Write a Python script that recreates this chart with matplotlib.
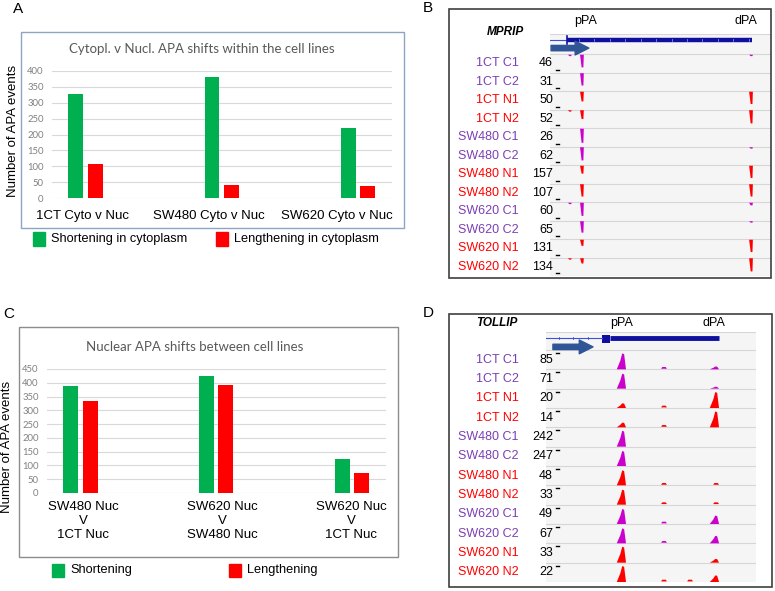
import matplotlib
matplotlib.use('Agg')
import matplotlib.pyplot as plt
from matplotlib.patches import Rectangle, Polygon

# ---- data ----
a_groups = ['1CT Cyto v Nuc', 'SW480 Cyto v Nuc', 'SW620 Cyto v Nuc']
a_short = [328, 380, 220]
a_long = [106, 42, 37]
a_legend = ['Shortening in cytoplasm', 'Lengthening in cytoplasm']

c_groups = ['SW480 Nuc\nV\n1CT Nuc', 'SW620 Nuc\nV\nSW480 Nuc', 'SW620 Nuc\nV\n1CT Nuc']
c_short = [387, 423, 123]
c_long = [333, 393, 72]
c_legend = ['Shortening', 'Lengthening']

samples = ['1CT C1', '1CT C2', '1CT N1', '1CT N2', 'SW480 C1', 'SW480 C2',
           'SW480 N1', 'SW480 N2', 'SW620 C1', 'SW620 C2', 'SW620 N1', 'SW620 N2']

# MPRIP: track scale per sample, peak heights (fraction of row) at pPA, dPA, upstream bit
mprip_scale = [46, 31, 50, 52, 26, 62, 157, 107, 60, 65, 131, 134]
mprip_sites = [0.145, 0.91, 0.09]
mprip_ppa = [0.72, 0.70, 0.55, 0.50, 0.80, 0.75, 0.45, 0.70, 0.75, 0.65, 0.35, 0.30]
mprip_dpa = [0.05, 0.0, 0.70, 0.75, 0.0, 0.05, 0.70, 0.70, 0.15, 0.03, 0.70, 0.75]
mprip_up = [0.08, 0.0, 0.0, 0.05, 0.0, 0.0, 0.0, 0.0, 0.05, 0.0, 0.0, 0.05]

# TOLLIP: pPA, middle, small bump, dPA
tollip_scale = [85, 71, 20, 14, 242, 247, 48, 33, 49, 67, 33, 22]
tollip_sites = [0.367, 0.562, 0.686, 0.81]
tollip_ppa = [0.85, 0.80, 0.25, 0.25, 0.85, 0.80, 0.80, 0.80, 0.80, 0.80, 0.85, 0.85]
tollip_mid = [0.05, 0.0, 0.05, 0.05, 0.0, 0.0, 0.05, 0.05, 0.06, 0.03, 0.0, 0.05]
tollip_bump = [0.0, 0.0, 0.0, 0.0, 0.0, 0.0, 0.0, 0.0, 0.0, 0.0, 0.0, 0.05]
tollip_dpa = [0.15, 0.10, 0.85, 0.85, 0.0, 0.0, 0.05, 0.08, 0.45, 0.40, 0.20, 0.35]

GREEN = '#00b050'
RED = '#ff0000'
PURPLE = '#7b3fb5'
MAGENTA = '#cc00cc'
ARIAL = 'Liberation Sans'
CALIBRI = 'Lato'

W, H = 775, 591
fig = plt.figure(figsize=(W / 100, H / 100), dpi=100)


def px(x0, y0, x1, y1):
    return [x0 / W, 1 - y1 / H, (x1 - x0) / W, (y1 - y0) / H]


def ftext(x, y, s, **kw):
    kw.setdefault('family', ARIAL)
    return fig.text(x / W, 1 - y / H, s, **kw)


def box(x0, y0, x1, y1, color, lw):
    fig.add_artist(Rectangle((x0 / W, 1 - y1 / H), (x1 - x0) / W, (y1 - y0) / H,
                             transform=fig.transFigure, fill=False,
                             edgecolor=color, lw=lw))


def bar_panel(letter, letter_xy, boxr, boxcol, plot, ymax, title, title_xy,
              short, long_, labels, label_x, label_y, ylab_xy, legend, leg):
    ftext(*letter_xy, letter, fontsize=11, ha='left', va='center')
    box(*boxr, boxcol, 1.0)
    ax = fig.add_axes(px(*plot))
    x = range(len(short))
    ax.bar([i - 0.071 for i in x], short, width=0.11, color=GREEN, zorder=3)
    ax.bar([i + 0.071 for i in x], long_, width=0.11, color=RED, zorder=3)
    ax.set_xlim(-0.247, 2.252)
    ax.set_ylim(0, ymax)
    ax.set_yticks(range(0, ymax + 1, 50))
    ax.set_xticks([])
    ax.grid(axis='y', color='#d9d9d9', lw=0.8, zorder=0)
    for s in ax.spines.values():
        s.set_visible(False)
    ax.tick_params(axis='y', length=0, labelsize=6.8, labelcolor='#808080', pad=6)
    for t in ax.get_yticklabels():
        t.set_family(CALIBRI)
    ax.set_facecolor('none')
    ftext(*title_xy, title, family=CALIBRI, fontsize=9.5, color='#595959',
          ha='center', va='center')
    for lx, lab in zip(label_x, labels):
        ftext(lx, label_y, lab, fontsize=9.5, ha='center', va='top',
              linespacing=1.2)
    ftext(*ylab_xy, 'Number of APA events', fontsize=9.5, rotation=90,
          ha='center', va='center')
    (sq0, sq1, ty), cols = leg, [GREEN, RED]
    for xs, name, col in zip(sq0, legend, cols):
        fig.add_artist(Rectangle((xs / W, 1 - (ty + 6.5) / H), 12 / W, 13 / H,
                                 transform=fig.transFigure, color=col))
        ftext(xs + 18, ty, name, fontsize=9.2, ha='left', va='center')
    return ax


bar_panel('A', (13, 9), (21, 32, 404, 228), '#8ea4c4', (52, 71, 392, 198), 400,
          'Cytopl. v Nucl. APA shifts within the cell lines', (202, 49),
          a_short, a_long, a_groups, [82, 209, 337], 210, (13, 131),
          a_legend, ([33, 216], None, 239))
bar_panel('C', (3, 314), (19, 327, 398, 557), '#8c8c8c', (47, 369, 386, 493), 450,
          'Nuclear APA shifts between cell lines', (195, 347),
          c_short, c_long, c_groups, [83, 222, 351], 501, (7, 447),
          c_legend, ([52, 229], None, 570))


def track_panel(letter, letter_xy, boxr, gene_name, gene_xy, pa_xy, tx0, tx1,
                ytop, ysep, ybot, scales, sites, heights, hang, gene):
    ftext(*letter_xy, letter, fontsize=11, ha='left', va='center')
    box(*boxr, '#404040', 1.2)
    n = len(samples)
    rh = (ybot - ysep) / n
    g = (ysep - ytop) / rh
    ax = fig.add_axes(px(tx0, ytop, tx1, ybot))
    ax.set_xlim(0, 1)
    ax.set_ylim(n, -g)
    ax.set_facecolor('#f5f5f5')
    ax.set_xticks([])
    ax.set_yticks([])
    for s in ax.spines.values():
        s.set_visible(False)
    for yy in [-g] + list(range(n + 1)):
        ax.axhline(yy, color='#d6d6d6', lw=0.8, zorder=1)
    ftext(*gene_xy, gene_name, fontsize=8.5, fontweight='bold', style='italic',
          ha='center', va='center')
    for (xx, yy), lab in zip(pa_xy, ['pPA', 'dPA']):
        ftext(xx, yy, lab, fontsize=9, ha='center', va='center')
    for i, (name, sc) in enumerate(zip(samples, scales)):
        yc = ysep + rh * (i + 0.5)
        col = PURPLE if ' C' in name else RED
        ftext(519, yc, name, fontsize=9, color=col, ha='right', va='center')
        ftext(553, yc, str(sc), fontsize=9, ha='right', va='center')
        pcol = MAGENTA if ' C' in name else RED
        for x, hs in zip(sites, heights):
            h = hs[i]
            if h <= 0:
                continue
            if hang:
                top = i + 0.04
                d = max(h, 0.08) * 0.95
                pts = [(x - 0.009, top), (x + 0.008, top), (x + 0.006, top + d),
                       (x - 0.002, top + d)]
            elif h < 0.1:
                # tiny flat bump
                b = i + 0.97
                d = max(h, 0.09)
                pts = [(x - 0.014, b), (x - 0.008, b - d), (x + 0.008, b - d),
                       (x + 0.014, b)]
            else:
                b = i + 1
                d = h * 0.97
                pts = [(x - 0.03, b), (x - 0.013, b - 0.55 * d), (x - 0.004, b - d),
                       (x + 0.005, b - 0.95 * d), (x + 0.014, b)]
            ax.add_patch(Polygon(pts, closed=True, facecolor=pcol, edgecolor='none',
                                 zorder=3))
        if hang:
            ax.plot([0.027, 0.041], [i + 0.85, i + 0.85], color='black', lw=1)
        else:
            ax.plot([0.048, 0.062], [i + 0.15, i + 0.15], color='black', lw=1)
    gene(ax, g)


def mprip_gene(ax, g):
    y = -0.75
    ax.plot([0, 0.077], [y, y], color='#3a50d8', lw=0.8)
    ax.plot([0.077, 0.077], [y - 0.2, y + 0.2], color='#1010a0', lw=1.2)
    ax.plot([0.077, 0.914], [y, y], color='#1010a0', lw=3.2, solid_capstyle='butt')
    for xt in [0.13, 0.2, 0.27, 0.34, 0.41, 0.48, 0.55, 0.62, 0.69, 0.76, 0.83, 0.9]:
        ax.plot([xt, xt], [y - 0.05, y + 0.05], color='#8090e0', lw=0.6)
    ax.annotate('', xy=(0.176, -0.32), xytext=(0.005, -0.32),
                arrowprops=dict(arrowstyle='simple,head_length=0.9,head_width=0.9,tail_width=0.35',
                                color='#2f5597', mutation_scale=11, shrinkA=0, shrinkB=0))


def tollip_gene(ax, g):
    y = -0.62
    ax.plot([0, 0.267], [y, y], color='#3a50d8', lw=0.8)
    for xt in [0.06, 0.13, 0.2]:
        ax.plot([xt, xt], [y - 0.05, y + 0.05], color='#3a50d8', lw=0.6)
    ax.add_patch(Rectangle((0.267, -0.78), 0.038, 0.42, color='#1010a0', lw=0))
    ax.plot([0.305, 0.824], [y, y], color='#1010a0', lw=3.5, solid_capstyle='butt')
    ax.annotate('', xy=(0.224, -0.16), xytext=(0.033, -0.16),
                arrowprops=dict(arrowstyle='simple,head_length=0.9,head_width=0.9,tail_width=0.35',
                                color='#2f5597', mutation_scale=11, shrinkA=0, shrinkB=0))


track_panel('B', (423, 8), (449, 9, 771, 278), 'MPRIP', (505, 32),
            [(586, 21), (746, 21)], 550, 771, 34, 54, 276,
            mprip_scale, mprip_sites, [mprip_ppa, mprip_dpa, mprip_up], True, mprip_gene)
track_panel('D', (423, 313), (449, 314, 772, 587), 'TOLLIP', (497, 323),
            [(622, 323), (714, 323)], 546, 756, 332, 350, 582,
            tollip_scale, tollip_sites, [tollip_ppa, tollip_mid, tollip_bump, tollip_dpa],
            False, tollip_gene)

fig.savefig('out.png', dpi=100)
